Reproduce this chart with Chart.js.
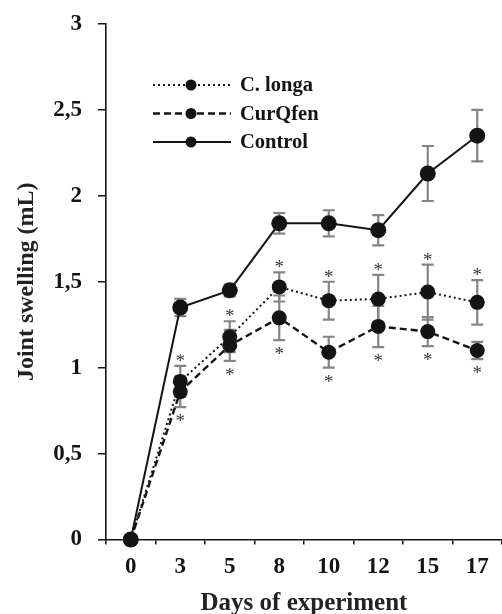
<!DOCTYPE html>
<html>
<head>
<meta charset="utf-8">
<script src="https://cdn.jsdelivr.net/npm/chart.js@4.4.1/dist/chart.umd.min.js"></script>
<style>
  html, body { margin: 0; padding: 0; background: #ffffff; }
  canvas { display: block; }
</style>
</head>
<body>
<canvas id="c" width="502" height="614"></canvas>
<script>
// ---- data ----
const days = ['0', '3', '5', '8', '10', '12', '15', '17'];
const cLonga    = [0, 0.92, 1.18, 1.47, 1.39, 1.40, 1.44, 1.38];
const cLongaErr = [0, 0.09, 0.09, 0.085, 0.11, 0.14, 0.16, 0.13];
const curQfen    = [0, 0.86, 1.13, 1.29, 1.09, 1.24, 1.21, 1.10];
const curQfenErr = [0, 0.09, 0.09, 0.13, 0.09, 0.12, 0.085, 0.05];
const control    = [0, 1.35, 1.45, 1.84, 1.84, 1.80, 2.13, 2.35];
const controlErr = [0, 0.05, 0.035, 0.06, 0.076, 0.088, 0.16, 0.15];
// significance markers (*): above C. longa bar, below CurQfen bar
const starAbove = [false, true, true, true, true, true, true, true];
const starBelow = [false, true, true, true, true, true, true, true];
const seriesNames = ['C. longa', 'CurQfen', 'Control'];

const FONT = '"Liberation Serif", "Times New Roman", serif';
const INK = '#141414';

const errorBars = {
  id: 'errorBars',
  beforeDatasetsDraw(chart) {
    const ctx = chart.ctx;
    const y = chart.scales.y;
    ctx.save();
    ctx.strokeStyle = '#858585';
    ctx.lineWidth = 2.2;
    chart.data.datasets.forEach((ds, i) => {
      const meta = chart.getDatasetMeta(i);
      ds.errors.forEach((e, j) => {
        if (!e) return;
        const x = meta.data[j].x;
        const yt = y.getPixelForValue(ds.data[j] + e);
        const yb = y.getPixelForValue(ds.data[j] - e);
        ctx.beginPath();
        ctx.moveTo(x, yt); ctx.lineTo(x, yb);
        ctx.moveTo(x - 6, yt); ctx.lineTo(x + 6, yt);
        ctx.moveTo(x - 6, yb); ctx.lineTo(x + 6, yb);
        ctx.stroke();
      });
    });
    ctx.restore();
  },
  afterDatasetsDraw(chart) {
    const ctx = chart.ctx;
    const y = chart.scales.y;
    const metaL = chart.getDatasetMeta(0);
    ctx.save();
    ctx.fillStyle = '#3a3a3a';
    ctx.font = '19px ' + FONT;
    ctx.textAlign = 'center';
    ctx.textBaseline = 'alphabetic';
    days.forEach((d, j) => {
      const x = metaL.data[j].x;
      if (starAbove[j]) {
        const yt = y.getPixelForValue(cLonga[j] + cLongaErr[j]) - 9;
        ctx.fillText('*', x, yt + 10);
      }
      if (starBelow[j]) {
        const yb = y.getPixelForValue(curQfen[j] - curQfenErr[j]) + 10;
        ctx.fillText('*', x, yb + 10);
      }
    });
    ctx.restore();
  }
};

const customLegend = {
  id: 'customLegend',
  afterDraw(chart) {
    const ctx = chart.ctx;
    ctx.save();
    chart.data.datasets.forEach((ds, i) => {
      const yy = 85 + i * 28.5;
      ctx.strokeStyle = INK;
      ctx.lineWidth = ds.borderWidth;
      ctx.setLineDash(ds.borderDash || []);
      ctx.beginPath();
      ctx.moveTo(153, yy); ctx.lineTo(231, yy);
      ctx.stroke();
      ctx.setLineDash([]);
      ctx.fillStyle = INK;
      ctx.beginPath();
      ctx.arc(191, yy, 5.5, 0, Math.PI * 2);
      ctx.fill();
      ctx.font = 'bold 20.5px ' + FONT;
      ctx.textAlign = 'left';
      ctx.textBaseline = 'middle';
      ctx.fillText(ds.label, 240, yy + 1);
    });
    ctx.restore();
  }
};

new Chart(document.getElementById('c'), {
  type: 'line',
  data: {
    labels: days,
    datasets: [
      { label: seriesNames[0], data: cLonga, errors: cLongaErr, borderColor: INK, backgroundColor: INK,
        borderWidth: 2, borderDash: [2, 3], pointRadius: 7.5, pointBackgroundColor: INK, pointBorderWidth: 0, tension: 0, clip: false },
      { label: seriesNames[1], data: curQfen, errors: curQfenErr, borderColor: INK, backgroundColor: INK,
        borderWidth: 2.4, borderDash: [7, 4], pointRadius: 7.5, pointBackgroundColor: INK, pointBorderWidth: 0, tension: 0, clip: false },
      { label: seriesNames[2], data: control, errors: controlErr, borderColor: INK, backgroundColor: INK,
        borderWidth: 2, borderDash: [], pointRadius: 8, pointBackgroundColor: INK, pointBorderWidth: 0, tension: 0, clip: false }
    ]
  },
  options: {
    responsive: false,
    animation: false,
    layout: { autoPadding: false, padding: { top: 24, right: 0, left: 0, bottom: 0 } },
    plugins: { legend: { display: false }, tooltip: { enabled: false } },
    scales: {
      x: {
        type: 'category',
        offset: true,
        afterFit: (s) => { s.height = 74.5; s.paddingLeft = 0; s.paddingRight = 0; },
        grid: { display: true, drawOnChartArea: false, drawTicks: true, tickLength: 5, offset: true, color: INK, lineWidth: 1.5 },
        border: { display: true, color: INK, width: 1.6 },
        ticks: { color: INK, font: { family: FONT, size: 23, weight: 'bold' }, padding: 9, maxRotation: 0 },
        title: { display: true, text: 'Days of experiment', color: '#222', font: { family: FONT, size: 25, weight: 'bold', lineHeight: 0.8 }, padding: { top: 0, bottom: 0 } }
      },
      y: {
        min: 0, max: 3,
        afterFit: (s) => { s.width = 106; s.paddingTop = 0; s.paddingBottom = 0; },
        grid: { display: true, drawOnChartArea: false, drawTicks: true, tickLength: 8, color: INK, lineWidth: 1.5 },
        border: { display: true, color: INK, width: 1.6 },
        ticks: { stepSize: 0.5, color: INK, font: { family: FONT, size: 23, weight: 'bold' }, padding: 16,
          callback: (v) => String(v).replace('.', ',') },
        title: { display: true, text: 'Joint swelling (mL)', color: '#222', font: { family: FONT, size: 24, weight: 'bold', lineHeight: 0.8 }, padding: { top: 17, bottom: 0 } }
      }
    }
  },
  plugins: [errorBars, customLegend]
});
</script>
</body>
</html>
